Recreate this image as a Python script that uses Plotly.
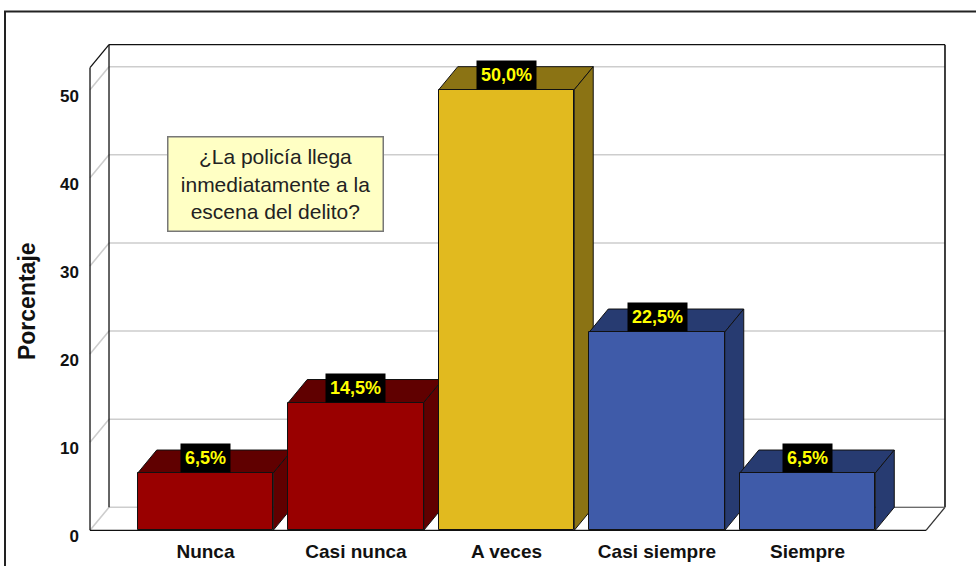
import plotly.graph_objects as go

# ---------------- data ----------------
categories = ["Nunca", "Casi nunca", "A veces", "Casi siempre", "Siempre"]
percentages = [6.5, 14.5, 50.0, 22.5, 6.5]
value_labels = ["6,5%", "14,5%", "50,0%", "22,5%", "6,5%"]
y_ticks = [0, 10, 20, 30, 40, 50]
y_tick_text = ["0", "10", "20", "30", "40", "50"]
question = "¿La policía llega<br>inmediatamente a la<br>escena del delito?"
y_title = "Porcentaje"

# ---------------- style / geometry ----------------
front_colors = ["#990000", "#990000", "#E1BA1F", "#3F5BA9", "#3F5BA9"]
shade_colors = ["#600000", "#600000", "#8B7314", "#273B71", "#273B71"]
W, H = 976, 566
X_LO, X_HI = -0.767, 4.787      # front floor extent (category units)
Y_TOP = 52.5                    # front wall top (value units)
PX_X, PX_Y = 150.5, 8.8         # pixels per unit
DX, DY = 19 / PX_X, 23 / PX_Y   # depth offset (3D)
BAR_W = 0.9
PADX, PADY = 0.02, 0.3
FRONT_LEFT_PX, FRONT_BOTTOM_PX = 90, 530

xr = [X_LO - PADX, X_HI + DX + PADX]
yr = [-PADY, Y_TOP + DY + PADY]
PW = (xr[1] - xr[0]) * PX_X
PH = (yr[1] - yr[0]) * PX_Y
ML = FRONT_LEFT_PX - PADX * PX_X
MR = W - ML - PW
MB = H - (FRONT_BOTTOM_PX + PADY * PX_Y)
MT = H - MB - PH


def paper_x(px):
    return (px - ML) / PW


def paper_y(py):
    return ((H - MB) - py) / PH


GRID = "#CDCDCD"
EDGE = "#111111"
shapes = []


def line(x0, y0, x1, y1, color, width=1.3):
    shapes.append(dict(type="line", xref="x", yref="y", x0=x0, y0=y0, x1=x1, y1=y1,
                       line=dict(color=color, width=width), layer="below"))


# gridlines on back wall and side wall
for v in y_ticks:
    line(X_LO + DX, v + DY, X_HI + DX, v + DY, GRID, 1.6)
    line(X_LO, v, X_LO + DX, v + DY, GRID, 1.6)

# box edges
line(X_LO + DX, DY, X_LO + DX, Y_TOP + DY, EDGE, 1.3)
line(X_LO + DX, Y_TOP + DY, X_HI + DX, Y_TOP + DY, EDGE, 1.3)
line(X_HI + DX, DY, X_HI + DX, Y_TOP + DY, EDGE, 1.6)
line(X_LO, Y_TOP, X_LO + DX, Y_TOP + DY, EDGE, 1.3)
line(X_LO, 0, X_LO, Y_TOP, EDGE, 1.3)
line(X_LO, 0, X_HI, 0, EDGE, 1.3)
line(X_HI, 0, X_HI + DX, DY, "#333333", 1.3)
line(X_HI + DX - 1.2, DY, X_HI + DX, DY, "#555555", 1.0)

# 3D faces of bars
for i, v in enumerate(percentages):
    x0, x1 = i - BAR_W / 2, i + BAR_W / 2
    top = f"M {x0},{v} L {x0 + DX},{v + DY} L {x1 + DX},{v + DY} L {x1},{v} Z"
    side = f"M {x1},0 L {x1 + DX},{DY} L {x1 + DX},{v + DY} L {x1},{v} Z"
    for p in (top, side):
        shapes.append(dict(type="path", xref="x", yref="y", path=p,
                           fillcolor=shade_colors[i], line=dict(color="#111111", width=1),
                           layer="below"))

# outer frame
shapes.append(dict(type="rect", xref="paper", yref="paper",
                   x0=paper_x(5), x1=paper_x(1000), y0=paper_y(590), y1=paper_y(12),
                   line=dict(color="#222222", width=2), fillcolor="rgba(0,0,0,0)"))

fig = go.Figure()
fig.add_trace(go.Bar(
    x=list(range(len(categories))), y=percentages, width=BAR_W,
    marker=dict(color=front_colors, line=dict(color="#111111", width=1)),
    hoverinfo="skip", showlegend=False,
))

annotations = []
for i, v in enumerate(percentages):
    annotations.append(dict(
        x=i, y=v, xref="x", yref="y", text=value_labels[i], showarrow=False,
        yanchor="bottom", xanchor="center", bgcolor="#000000", borderpad=4,
        font=dict(family="Liberation Sans Narrow, Arial Narrow, Liberation Sans, Arial",
                  size=18, color="#FFFF00", weight="bold"),
    ))

annotations.append(dict(
    x=paper_x(275), y=paper_y(184.5), xref="paper", yref="paper",
    text=question, showarrow=False, xanchor="center", yanchor="middle",
    bgcolor="#FFFFC4", bordercolor="#777777", borderwidth=1.5, borderpad=0,
    width=214, height=93, align="center",
    font=dict(family="Liberation Sans, Arial", size=21, color="#222222"),
))

annotations.append(dict(
    x=paper_x(27), y=paper_y(301), xref="paper", yref="paper",
    text=y_title, showarrow=False, textangle=-90, xanchor="center", yanchor="middle",
    font=dict(family="Liberation Sans, Arial", size=23, color="#111111", weight="bold"),
))

fig.update_layout(
    template="none",
    width=W, height=H, autosize=False,
    margin=dict(l=ML, r=MR, t=MT, b=MB, pad=0, autoexpand=False),
    paper_bgcolor="white", plot_bgcolor="white",
    shapes=shapes, annotations=annotations,
    bargap=0,
    xaxis=dict(range=xr, showgrid=False, zeroline=False, showline=False, automargin=False,
               tickmode="array", tickvals=list(range(len(categories))), ticktext=categories,
               ticks="", ticklabelstandoff=5,
               tickfont=dict(family="Liberation Sans, Arial", size=19,
                             color="#111111", weight="bold"),
               fixedrange=True),
    yaxis=dict(range=yr, showgrid=False, zeroline=False, showline=False, automargin=False,
               tickmode="array", tickvals=y_ticks, ticktext=y_tick_text,
               ticks="", ticklabelstandoff=7, ticklabelshift=6,
               tickfont=dict(family="Liberation Sans, Arial", size=17,
                             color="#111111", weight="bold"),
               fixedrange=True),
)

fig.write_html("out.html", config={"displayModeBar": False},
               post_script="document.body.style.margin='0';document.body.style.overflow='hidden';")
